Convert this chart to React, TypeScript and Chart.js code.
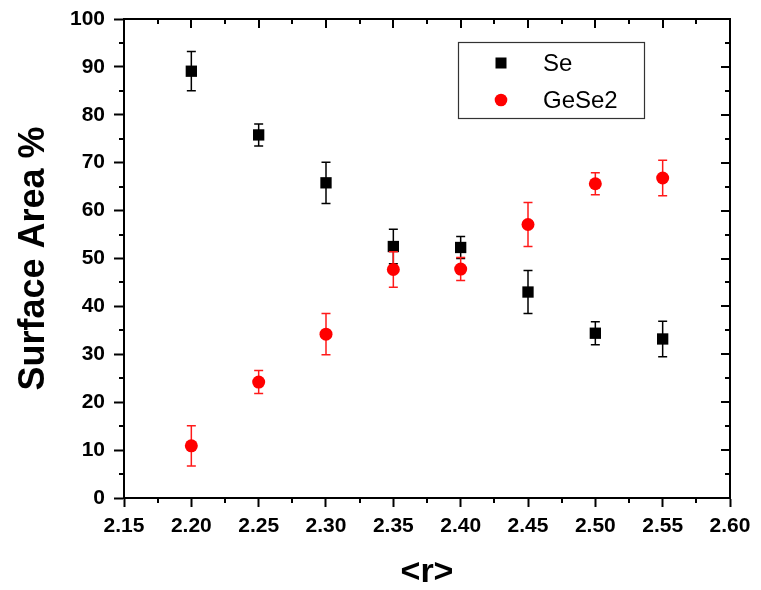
import { useEffect, useRef } from 'react';
import { Chart, registerables } from 'chart.js';

Chart.register(...registerables);

// Mean coordination number <r>
const rValues = [2.2, 2.25, 2.3, 2.35, 2.4, 2.45, 2.5, 2.55];
// Surface area fractions (%) and their uncertainties
const seArea = [89.1, 75.8, 65.8, 52.5, 52.3, 43.0, 34.4, 33.2];
const seErr = [4.1, 2.3, 4.3, 3.6, 2.3, 4.5, 2.4, 3.7];
const geSe2Area = [10.9, 24.2, 34.2, 47.7, 47.8, 57.1, 65.6, 66.8];
const geSe2Err = [4.2, 2.4, 4.3, 3.7, 2.4, 4.6, 2.3, 3.7];

const seriesLabels = ['Se', 'GeSe2'];
const xTitle = '<r>';
const yTitle = 'Surface Area %';

const FONT = '"Liberation Sans", Arial, Helvetica, sans-serif';

// Vertical error bars with caps, drawn just below each dataset's markers
const errorBarsPlugin = {
  id: 'errorBars',
  beforeDatasetDraw(chart: any, args: any) {
    const ds = chart.data.datasets[args.index];
    const errs: number[] | undefined = ds.errors;
    if (!errs) return;
    const xs = chart.scales.x;
    const ys = chart.scales.y;
    const ctx: CanvasRenderingContext2D = chart.ctx;
    const cap = 4.5;
    ctx.save();
    ctx.strokeStyle = ds.errorColor;
    ctx.lineWidth = 1.5;
    ds.data.forEach((p: { x: number; y: number }, i: number) => {
      const px = xs.getPixelForValue(p.x);
      const top = ys.getPixelForValue(p.y + errs[i]);
      const bot = ys.getPixelForValue(p.y - errs[i]);
      ctx.beginPath();
      ctx.moveTo(px, top);
      ctx.lineTo(px, bot);
      ctx.moveTo(px - cap, top);
      ctx.lineTo(px + cap, top);
      ctx.moveTo(px - cap, bot);
      ctx.lineTo(px + cap, bot);
      ctx.stroke();
    });
    ctx.restore();
  },
};

// Closed frame: top/right borders, inward mirror ticks and minor ticks
const framePlugin = {
  id: 'frame',
  afterDraw(chart: any) {
    const { ctx, chartArea } = chart;
    const { left, right, top, bottom } = chartArea;
    const xs = chart.scales.x;
    const ys = chart.scales.y;
    const major = 9;
    const minor = 5;
    ctx.save();
    ctx.strokeStyle = '#000';
    ctx.lineWidth = 2;
    ctx.beginPath();
    ctx.moveTo(left - 1, top);
    ctx.lineTo(right, top);
    ctx.lineTo(right, bottom + 1);
    ctx.stroke();

    ctx.beginPath();
    const xt = xs.ticks;
    xt.forEach((t: any, i: number) => {
      const px = Math.round(xs.getPixelForValue(t.value));
      ctx.moveTo(px, top);
      ctx.lineTo(px, top + major);
      if (i < xt.length - 1) {
        const mx = Math.round(xs.getPixelForValue((t.value + xt[i + 1].value) / 2));
        ctx.moveTo(mx, top);
        ctx.lineTo(mx, top + minor);
        ctx.moveTo(mx, bottom);
        ctx.lineTo(mx, bottom + minor);
      }
    });
    const yt = ys.ticks;
    yt.forEach((t: any, i: number) => {
      const py = Math.round(ys.getPixelForValue(t.value));
      ctx.moveTo(right, py);
      ctx.lineTo(right - major, py);
      if (i < yt.length - 1) {
        const my = Math.round(ys.getPixelForValue((t.value + yt[i + 1].value) / 2));
        ctx.moveTo(right, my);
        ctx.lineTo(right - minor, my);
        ctx.moveTo(left, my);
        ctx.lineTo(left - minor, my);
      }
    });
    ctx.stroke();
    ctx.restore();
  },
};

// Boxed legend in the upper right of the plot area
const boxLegendPlugin = {
  id: 'boxLegend',
  afterDraw(chart: any) {
    const { ctx, chartArea } = chart;
    const bx = chartArea.left + 334;
    const by = chartArea.top + 23;
    const bw = 186;
    const bh = 76;
    ctx.save();
    ctx.fillStyle = '#fff';
    ctx.fillRect(bx, by, bw, bh);
    ctx.strokeStyle = '#333';
    ctx.lineWidth = 1.2;
    ctx.strokeRect(bx + 0.5, by + 0.5, bw, bh);
    chart.data.datasets.forEach((ds: any, i: number) => {
      const cy = by + 21 + i * 37;
      const cx = bx + 43;
      ctx.fillStyle = ds.backgroundColor;
      if (ds.pointStyle === 'rect') {
        ctx.fillRect(cx - 5.5, cy - 5.5, 11, 11);
      } else {
        ctx.beginPath();
        ctx.arc(cx, cy, 6.3, 0, Math.PI * 2);
        ctx.fill();
      }
      ctx.fillStyle = '#000';
      ctx.font = `24px ${FONT}`;
      ctx.textBaseline = 'middle';
      ctx.textAlign = 'left';
      ctx.fillText(ds.label, bx + 85, cy + 1);
    });
    ctx.restore();
  },
};

export default function App() {
  const canvasRef = useRef<HTMLCanvasElement | null>(null);

  useEffect(() => {
    document.body.style.margin = '0';
    const canvas = canvasRef.current;
    if (!canvas) return;

    const chart = new Chart(canvas, {
      type: 'scatter',
      data: {
        datasets: [
          {
            label: seriesLabels[0],
            data: rValues.map((x, i) => ({ x, y: seArea[i] })),
            errors: seErr,
            errorColor: '#000',
            backgroundColor: '#000',
            borderColor: '#000',
            borderWidth: 0,
            pointStyle: 'rect',
            pointRadius: 8,
            order: 1,
          } as any,
          {
            label: seriesLabels[1],
            data: rValues.map((x, i) => ({ x, y: geSe2Area[i] })),
            errors: geSe2Err,
            errorColor: '#ff1a1a',
            backgroundColor: '#ff0000',
            borderColor: '#ff0000',
            borderWidth: 0,
            pointStyle: 'circle',
            pointRadius: 6.5,
            order: 0,
          } as any,
        ],
      },
      options: {
        animation: false,
        responsive: false,
        devicePixelRatio: 1,
        layout: { padding: { top: 19, right: 31, left: 0, bottom: 0 } },
        plugins: {
          legend: { display: false },
          tooltip: { enabled: false },
        },
        scales: {
          x: {
            type: 'linear',
            min: 2.15,
            max: 2.6,
            afterFit: (s: any) => {
              s.height = 92;
            },
            ticks: {
              stepSize: 0.05,
              color: '#000',
              padding: 7,
              maxRotation: 0,
              font: { family: FONT, size: 21, weight: 'bold' },
              callback: (v: any) => Number(v).toFixed(2),
            },
            grid: {
              display: true,
              drawOnChartArea: false,
              drawTicks: true,
              tickLength: 9,
              tickWidth: 2,
              tickColor: '#000',
            },
            border: { display: true, color: '#000', width: 2 },
            title: {
              display: true,
              text: xTitle,
              color: '#000',
              padding: { top: 0, bottom: 0 },
              font: { family: FONT, size: 34, weight: 'bold', lineHeight: 1 },
            },
          },
          y: {
            type: 'linear',
            min: 0,
            max: 100,
            afterFit: (s: any) => {
              s.width = 124;
            },
            ticks: {
              stepSize: 10,
              color: '#000',
              padding: 9,
              font: { family: FONT, size: 21, weight: 'bold', lineHeight: 0.9 },
            },
            grid: {
              display: true,
              drawOnChartArea: false,
              drawTicks: true,
              tickLength: 10,
              tickWidth: 2,
              tickColor: '#000',
            },
            border: { display: true, color: '#000', width: 2 },
            title: {
              display: true,
              text: yTitle,
              color: '#000',
              padding: { top: 16, bottom: 0 },
              font: { family: FONT, size: 36, weight: 'bold', lineHeight: 1 },
            },
          },
        },
      },
      plugins: [errorBarsPlugin, framePlugin, boxLegendPlugin],
    } as any);

    return () => {
      chart.destroy();
    };
  }, []);

  return (
    <div style={{ width: 761, height: 590, background: '#fff' }}>
      <canvas ref={canvasRef} width={761} height={590} style={{ display: 'block' }} />
    </div>
  );
}
